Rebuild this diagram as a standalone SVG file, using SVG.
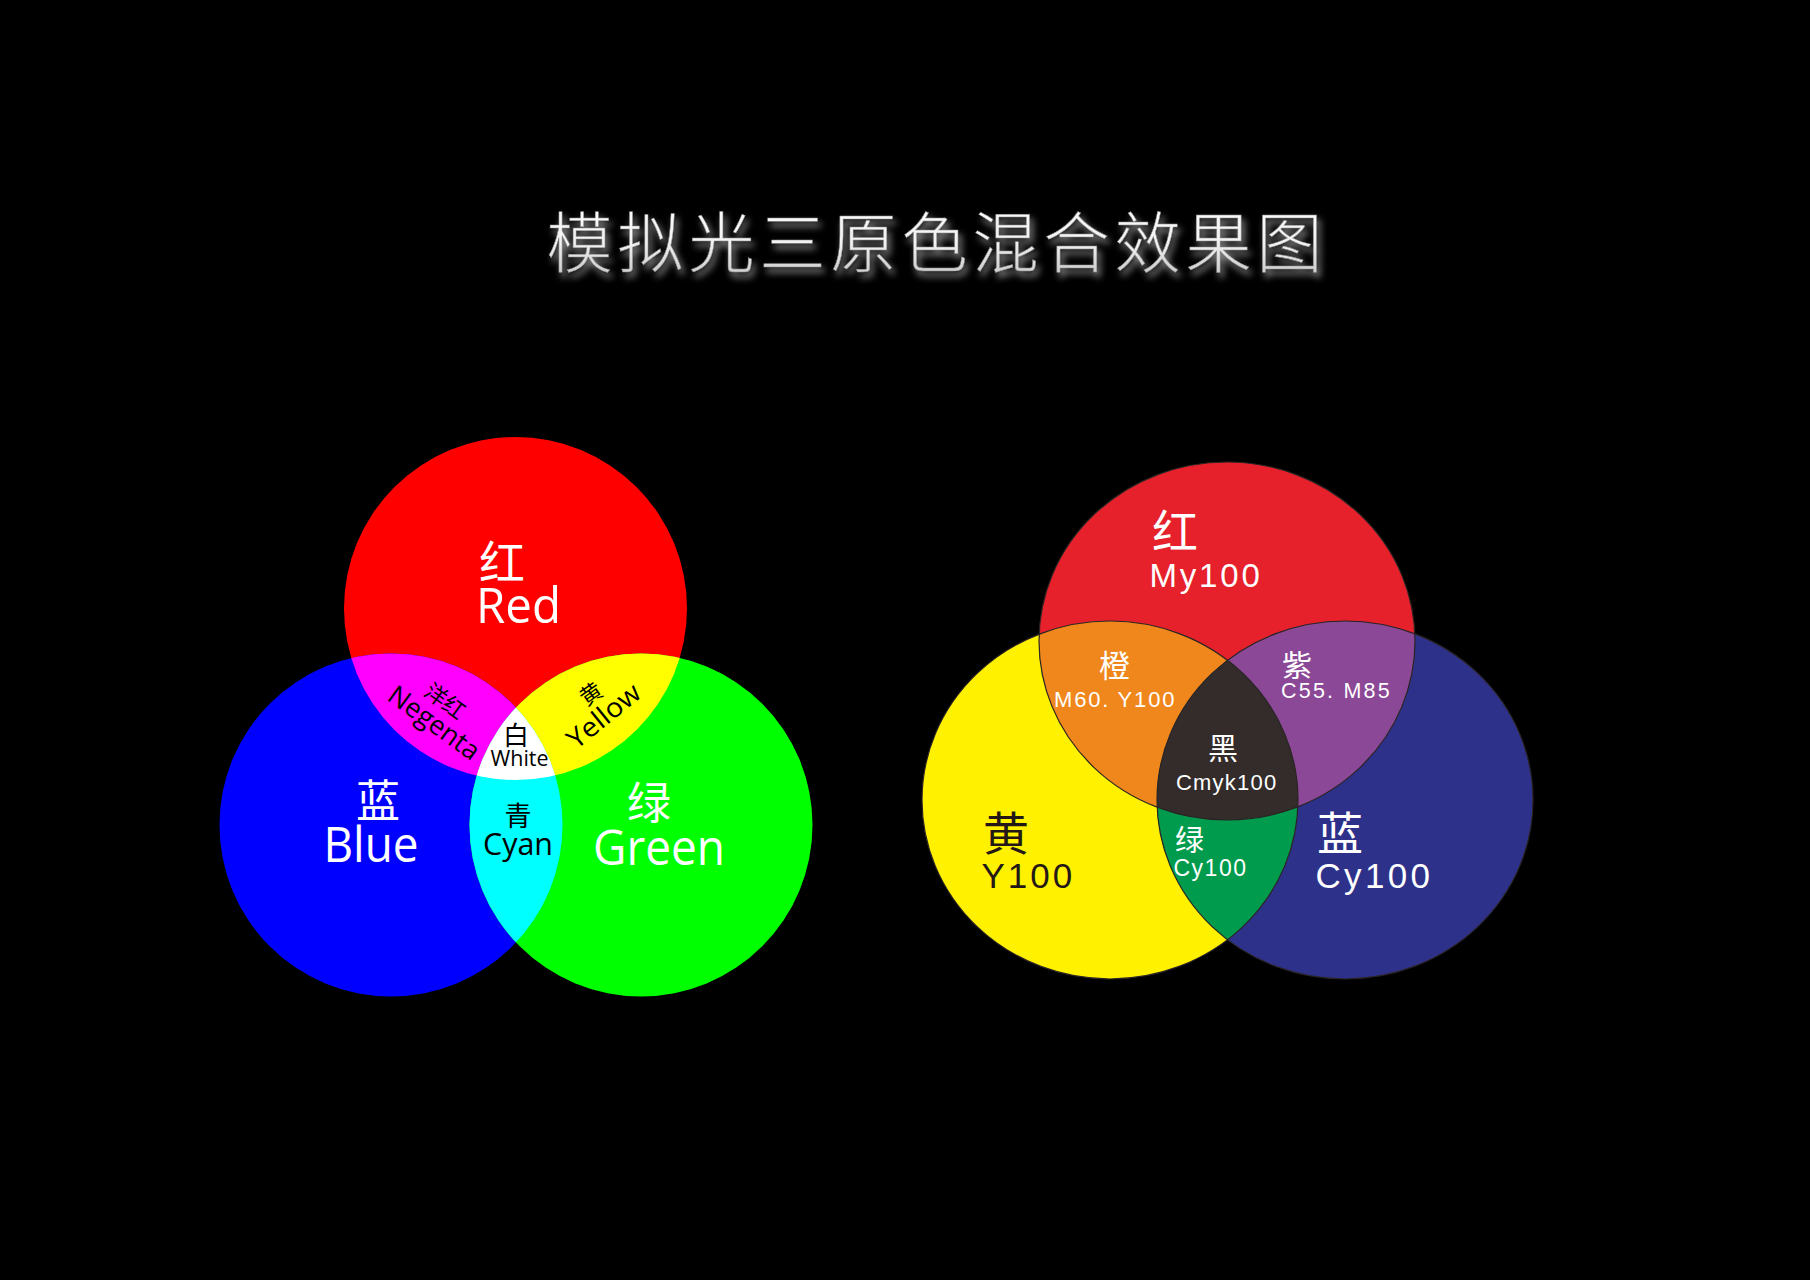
<svg xmlns="http://www.w3.org/2000/svg" width="1810" height="1280" viewBox="0 0 1810 1280">
  <style>
    .cjk { font-family: "Noto Sans CJK SC", sans-serif; }
    .lat { font-family: "Open Sans", "Noto Sans", sans-serif; }
    .arl { font-family: "Liberation Sans", Arial, sans-serif; }
    .w { fill: #ffffff; }
    .k { fill: #000000; }
    .dk { fill: #231815; }
    .edge { fill: none; stroke: #2a2424; stroke-width: 1.2; }
  </style>
  <defs>
    <clipPath id="cRed"><circle cx="515.5" cy="608.5" r="171.5"/></clipPath>
    <clipPath id="cBlue"><circle cx="391" cy="825" r="171.5"/></clipPath>
    <clipPath id="cGreen"><circle cx="641" cy="825" r="171.5"/></clipPath>
    <clipPath id="eRed"><ellipse cx="1227" cy="641" rx="188" ry="179"/></clipPath>
    <clipPath id="eYel"><ellipse cx="1110" cy="800" rx="188" ry="179"/></clipPath>
    <clipPath id="eBlu"><ellipse cx="1345" cy="800" rx="188" ry="179"/></clipPath>
    <linearGradient id="tg" x1="0" y1="0" x2="0" y2="1">
      <stop offset="0" stop-color="#ffffff"/>
      <stop offset="0.55" stop-color="#f2f2f2"/>
      <stop offset="1" stop-color="#bdbdbd"/>
    </linearGradient>
    <filter id="tshadow" x="-10%" y="-40%" width="120%" height="180%">
      <feGaussianBlur in="SourceAlpha" stdDeviation="3.5" result="b"/>
      <feOffset in="b" dx="3" dy="5" result="o"/>
      <feFlood flood-color="#a8a8a8" flood-opacity="0.9"/>
      <feComposite in2="o" operator="in" result="s"/>
      <feMerge><feMergeNode in="s"/><feMergeNode in="SourceGraphic"/></feMerge>
    </filter>
  </defs>

  <rect x="0" y="0" width="1810" height="1280" fill="#000000"/>

  <g id="title">
    <text x="937" y="267" text-anchor="middle" class="cjk" font-size="66" font-weight="300" letter-spacing="5" fill="url(#tg)" stroke="#8a8a8a" stroke-width="0.5" filter="url(#tshadow)">模拟光三原色混合效果图</text>
  </g>

  <!-- Left: additive light mixing -->
  <g id="rgb-diagram">
    <g id="light-red"><circle cx="515.5" cy="608.5" r="171.5" fill="#ff0000"/></g>
    <g id="light-blue"><circle cx="391" cy="825" r="171.5" fill="#0000ff"/></g>
    <g id="light-green"><circle cx="641" cy="825" r="171.5" fill="#00ff00"/></g>
    <g id="light-magenta"><circle cx="391" cy="825" r="171.5" fill="#ff00ff" clip-path="url(#cRed)"/></g>
    <g id="light-yellow"><circle cx="641" cy="825" r="171.5" fill="#ffff00" clip-path="url(#cRed)"/></g>
    <g id="light-cyan"><circle cx="641" cy="825" r="171.5" fill="#00ffff" clip-path="url(#cBlue)"/></g>
    <g id="light-white"><g clip-path="url(#cBlue)"><circle cx="641" cy="825" r="171.5" fill="#ffffff" clip-path="url(#cRed)"/></g></g>

    <g id="label-red">
      <text x="479" y="579" class="cjk w" font-size="46">红</text>
      <text x="476" y="623" class="lat w" font-size="50" textLength="85" lengthAdjust="spacingAndGlyphs">Red</text>
    </g>
    <g id="label-blue">
      <text x="356" y="817" class="cjk w" font-size="44">蓝</text>
      <text x="323.5" y="862" class="lat w" font-size="49" textLength="95" lengthAdjust="spacingAndGlyphs">Blue</text>
    </g>
    <g id="label-green">
      <text x="627" y="819" class="cjk w" font-size="44">绿</text>
      <text x="593" y="865" class="lat w" font-size="50" textLength="132" lengthAdjust="spacingAndGlyphs">Green</text>
    </g>
    <g id="label-cyan">
      <text x="518" y="826" text-anchor="middle" class="cjk k" font-size="27">青</text>
      <text x="518" y="855" text-anchor="middle" class="lat k" font-size="31" textLength="70" lengthAdjust="spacingAndGlyphs">Cyan</text>
    </g>
    <g id="label-white">
      <text x="516" y="745" text-anchor="middle" class="cjk k" font-size="26">白</text>
      <text x="519.5" y="766" text-anchor="middle" class="lat k" font-size="21.5" textLength="58" lengthAdjust="spacingAndGlyphs">White</text>
    </g>
    <g id="label-magenta">
      <g transform="translate(445,701) rotate(36)"><text x="0" y="8" text-anchor="middle" class="cjk k" font-size="22">洋红</text></g>
      <g transform="translate(434,723) rotate(36)"><text x="0" y="9" text-anchor="middle" class="lat k" font-size="27" textLength="106" lengthAdjust="spacingAndGlyphs">Negenta</text></g>
    </g>
    <g id="label-yellow">
      <g transform="translate(591,694) rotate(-35)"><text x="0" y="8" text-anchor="middle" class="cjk k" font-size="22">黄</text></g>
      <g transform="translate(604,716) rotate(-39)"><text x="0" y="9" text-anchor="middle" class="lat k" font-size="27" textLength="86" lengthAdjust="spacingAndGlyphs">Yellow</text></g>
    </g>
  </g>

  <!-- Right: subtractive pigment mixing -->
  <g id="cmyk-diagram">
    <g id="ink-red"><ellipse cx="1227" cy="641" rx="188" ry="179" fill="#e6212b"/></g>
    <g id="ink-yellow"><ellipse cx="1110" cy="800" rx="188" ry="179" fill="#fff100"/></g>
    <g id="ink-blue"><ellipse cx="1345" cy="800" rx="188" ry="179" fill="#2e318a"/></g>
    <g id="ink-orange"><ellipse cx="1110" cy="800" rx="188" ry="179" fill="#f0871c" clip-path="url(#eRed)"/></g>
    <g id="ink-purple"><ellipse cx="1345" cy="800" rx="188" ry="179" fill="#8b4896" clip-path="url(#eRed)"/></g>
    <g id="ink-green"><ellipse cx="1345" cy="800" rx="188" ry="179" fill="#009b4c" clip-path="url(#eYel)"/></g>
    <g id="ink-black"><g clip-path="url(#eBlu)"><ellipse cx="1227" cy="641" rx="188" ry="179" fill="#332c2b" clip-path="url(#eYel)"/></g></g>
    <g id="ink-edges">
      <ellipse class="edge" cx="1227" cy="641" rx="188" ry="179"/>
      <ellipse class="edge" cx="1110" cy="800" rx="188" ry="179"/>
      <ellipse class="edge" cx="1345" cy="800" rx="188" ry="179"/>
    </g>

    <g id="label-ink-red">
      <text x="1152" y="548" class="cjk w" font-size="46">红</text>
      <text x="1149.5" y="587" class="arl w" font-size="33" letter-spacing="2.8">My100</text>
    </g>
    <g id="label-ink-orange">
      <text x="1099" y="677" class="cjk w" font-size="31">橙</text>
      <text x="1054" y="707" class="arl w" font-size="22" letter-spacing="1.8">M60. Y100</text>
    </g>
    <g id="label-ink-purple">
      <text x="1282" y="676" class="cjk w" font-size="30">紫</text>
      <text x="1281" y="698" class="arl w" font-size="21.5" letter-spacing="2.2">C55. M85</text>
    </g>
    <g id="label-ink-black">
      <text x="1208" y="759" class="cjk w" font-size="30">黑</text>
      <text x="1176" y="790" class="arl w" font-size="22" letter-spacing="1.2">Cmyk100</text>
    </g>
    <g id="label-ink-yellow">
      <text x="983" y="850" class="cjk dk" font-size="46">黄</text>
      <text x="981.5" y="888" class="arl dk" font-size="35" letter-spacing="3">Y100</text>
    </g>
    <g id="label-ink-green">
      <text x="1175" y="851" class="cjk w" font-size="29">绿</text>
      <text x="1173.5" y="876" class="arl w" font-size="23" letter-spacing="1.5">Cy100</text>
    </g>
    <g id="label-ink-blue">
      <text x="1317" y="850" class="cjk w" font-size="46">蓝</text>
      <text x="1315.5" y="888" class="arl w" font-size="35" letter-spacing="3.3">Cy100</text>
    </g>
  </g>
</svg>
